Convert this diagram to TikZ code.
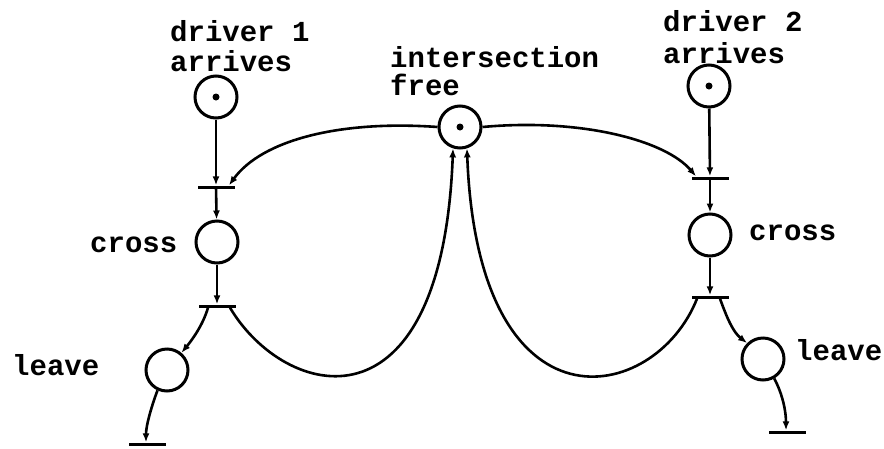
\documentclass[tikz,border=0pt]{standalone}
\usepackage{fontspec}
\setmonofont{Liberation Mono}
\usetikzlibrary{arrows.meta}
\begin{document}
\begin{tikzpicture}[x=1pt,y=-1pt,
  place/.style={circle,draw,line width=3pt,minimum size=42pt,inner sep=0pt},
  trans/.style={rectangle,fill=black,minimum width=37pt,minimum height=3pt,inner sep=0pt},
  token/.style={circle,fill=black,minimum size=7pt,inner sep=0pt},
  lbl/.style={anchor=base west,inner sep=0pt,font=\ttfamily\bfseries\fontsize{29}{30}\selectfont},
  flow/.style={line width=2.6pt,-{Latex[length=9pt,width=7pt]}}]
\useasboundingbox (0,0) rectangle (884,448);

% places
\node[place] (p1) at (216,97) {};
\node[place] (c1) at (217,242) {};
\node[place] (l1) at (167,370) {};
\node[place] (pi) at (460,127) {};
\node[place] (p2) at (709,86) {};
\node[place] (c2) at (710,235) {};
\node[place] (l2) at (763,359) {};

% tokens
\node[token] (k1) at (p1) {};
\node[token] (k2) at (pi) {};
\node[token] (k3) at (p2) {};

% transitions
\node[trans] (t1) at (216,187) {};
\node[trans] (t2) at (217,306) {};
\node[trans] (t3) at (147,444) {};
\node[trans] (t4) at (710,178) {};
\node[trans] (t5) at (710,297) {};
\node[trans] (t6) at (787,432) {};

% labels
\node[lbl] (d1a) at (170,41) {driver 1};
\node[lbl] (d1b) at (170,71) {arrives};
\node[lbl] (ifa) at (390,67) {intersection};
\node[lbl] (ifb) at (390,95) {free};
\node[lbl] (d2a) at (663,31) {driver 2};
\node[lbl] (d2b) at (663,63) {arrives};
\node[lbl] (cr1) at (90,252) {cross};
\node[lbl] (cr2) at (749,240) {cross};
\node[lbl] (lv1) at (12,375) {leave};
\node[lbl] (lv2) at (795,360) {leave};

% driver 1
\draw[flow] (p1) -- (t1);
\draw[flow] (t1) -- (c1);
\draw[flow] (c1) -- (t2);
\draw[flow] ([xshift=-9pt]t2.south) .. controls (203,325) and (192,340) .. (l1.50);
\draw[flow] (l1.245) .. controls (152,405) and (146,425) .. ([xshift=-1pt]t3.north);

% driver 2
\draw[flow] (p2) -- (t4);
\draw[flow] (t4) -- (c2);
\draw[flow] (c2) -- (t5);
\draw[flow] ([xshift=10pt]t5.south) .. controls (727,318) and (733,332) .. (l2.135);
\draw[flow] (l2.-60) .. controls (783,395) and (786,412) .. ([xshift=-1pt]t6.north);

% shared resource
\draw[flow] (pi.west) .. controls (340,120) and (262,140) .. ([xshift=13pt]t1.north);
\draw[flow] (pi.east) .. controls (580,118) and (665,140) .. ([xshift=-14pt]t4.north);
\draw[flow] ([xshift=13pt]t2.south) .. controls (285,400) and (442,440) .. (pi.252);
\draw[flow] ([xshift=-13pt]t5.south) .. controls (655,405) and (478,440) .. (pi.288);
\end{tikzpicture}
\end{document}
